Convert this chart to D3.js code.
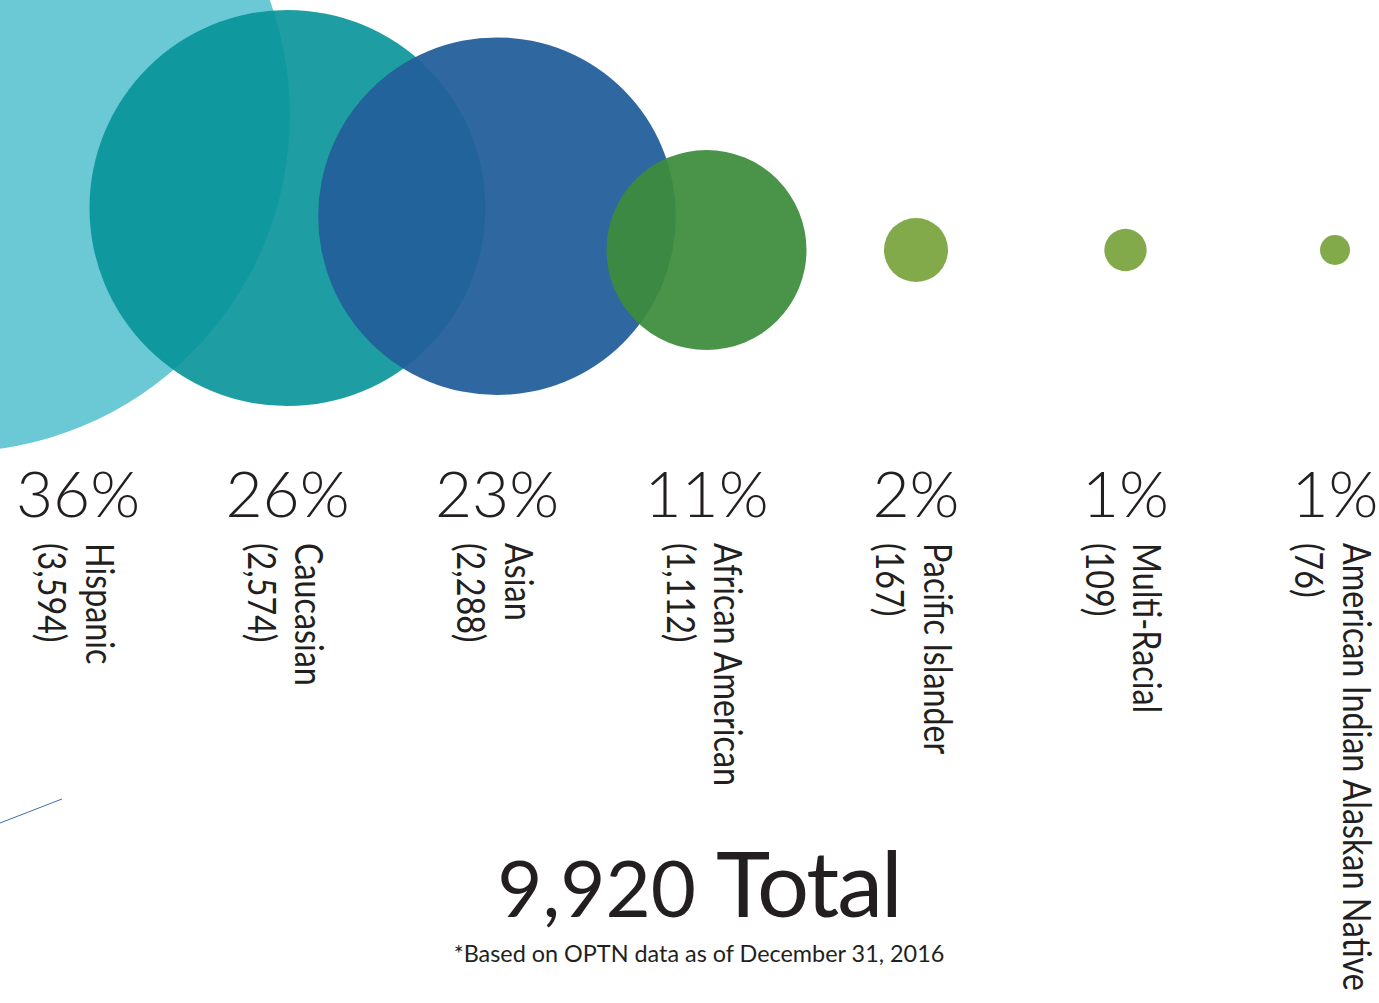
<!DOCTYPE html>
<html>
<head>
<meta charset="utf-8">
<script src="https://cdn.jsdelivr.net/npm/d3@7"></script>
<style>
  html, body { margin: 0; padding: 0; background: #fff; overflow: hidden; }
  svg { display: block; }
</style>
</head>
<body>
<script>
// data
var groups = ["Hispanic", "Caucasian", "Asian", "African American", "Pacific Islander", "Multi-Racial", "American Indian Alaskan Native"];
var counts = [3594, 2574, 2288, 1112, 167, 109, 76];
var percents = ["36%", "26%", "23%", "11%", "2%", "1%", "1%"];
var colors = ["#6bc9d6", "#069399", "#24609b", "#3c8c3c", "#82aa4a", "#82aa4a", "#82aa4a"];
var opacities = [1, 0.9, 0.95, 0.93, 1, 1, 1];
var total = "9,920";
var note = "*Based on OPTN data as of December 31, 2016";

var W = 1379, H = 1003, ink = "#231f20";

var rows = groups.map(function(g, i) {
  return { group: g, count: counts[i], pct: percents[i], color: colors[i], op: opacities[i] };
});

// set up the SVG container
var svg = d3.select("body")
  .append("svg")
  .attr("width", W)
  .attr("height", H);

// column positions
var x = d3.scalePoint()
  .domain(groups)
  .range([78, 1335]);

// bubble sizes (the designer's sizing is not strictly proportional)
var r = d3.scaleLinear()
  .domain([76, 167, 1112, 2574, 3594])
  .range([15, 32, 100, 198, 337]);

// big bubbles are lifted and the largest one pushed off the left edge
var lift = d3.scaleLinear().domain([100, 198, 337]).range([0, 42, 135]).clamp(true);
var push = d3.scaleLinear().domain([198, 337]).range([0, -125]).clamp(true);
var baseY = 250;

// create the bubbles
svg.selectAll(".bubble")
  .data(rows)
  .enter().append("circle")
  .attr("class", "bubble")
  .attr("cx", function(d) { return x(d.group) + push(r(d.count)); })
  .attr("cy", function(d) { return baseY - lift(r(d.count)); })
  .attr("r", function(d) { return r(d.count); })
  .attr("fill", function(d) { return d.color; })
  .attr("fill-opacity", function(d) { return d.op; });

// percent labels
svg.selectAll(".pct")
  .data(rows)
  .enter().append("text")
  .attr("class", "pct")
  .attr("x", function(d) { return x(d.group); })
  .attr("y", 517)
  .attr("text-anchor", "middle")
  .style("font-family", "Lato, sans-serif")
  .style("font-weight", 300)
  .style("font-size", "64px")
  .attr("fill", ink)
  .text(function(d) { return d.pct; });

// rotated name + count labels, squeezed along the text direction
var lab = svg.selectAll(".lab")
  .data(rows)
  .enter().append("g")
  .attr("class", "lab")
  .attr("transform", function(d) { return "translate(" + x(d.group) + ",543) rotate(90) scale(0.85,1)"; })
  .style("font-family", "Lato, sans-serif")
  .style("font-size", "38px")
  .attr("fill", ink);

lab.append("text")
  .attr("x", 0)
  .attr("y", -8)
  .text(function(d) { return d.group; });

lab.append("text")
  .attr("x", 0)
  .attr("y", 40)
  .text(function(d) { return "(" + d3.format(",")(d.count) + ")"; });

// total
var tot = svg.append("text")
  .attr("x", 699)
  .attr("y", 917)
  .attr("text-anchor", "middle")
  .style("font-family", "Lato, sans-serif")
  .attr("fill", ink);
tot.append("tspan").style("font-size", "78px").text(total + " ");
tot.append("tspan").style("font-size", "92px").attr("letter-spacing", "-2").text("Total");

svg.append("text")
  .attr("x", 699)
  .attr("y", 962)
  .attr("text-anchor", "middle")
  .style("font-family", "Lato, sans-serif")
  .style("font-size", "23.4px")
  .attr("fill", ink)
  .text(note);

// stray blue rule at lower left
svg.append("line")
  .attr("x1", 0).attr("y1", 823)
  .attr("x2", 62).attr("y2", 799)
  .attr("stroke", "#3a6ea8")
  .attr("stroke-width", 1);
</script>
</body>
</html>
